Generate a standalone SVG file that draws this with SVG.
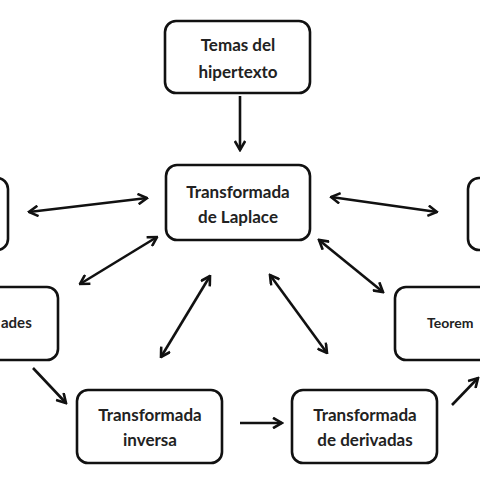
<svg xmlns="http://www.w3.org/2000/svg" width="480" height="480" viewBox="0 0 480 480">
<defs>
<style>
.box{fill:#fff;stroke:#111;stroke-width:2.6}
.t{font-family:Lato,"Open Sans",sans-serif;font-weight:bold;font-size:17px;fill:#222;text-anchor:middle}
.c line{stroke:#111;stroke-width:2.6}
</style>
<marker id="h" viewBox="0 0 12 12" refX="10.5" refY="6" markerWidth="12" markerHeight="12" markerUnits="userSpaceOnUse" orient="auto-start-reverse">
<path d="M1.5,0.8 L10.5,6 L1.5,11.2" fill="none" stroke="#111" stroke-width="2.6" stroke-linejoin="miter"/>
</marker>
</defs>
<rect width="480" height="480" fill="#fff"/>
<g class="c">
<line x1="240" y1="96" x2="240" y2="150" marker-end="url(#h)"/>
<line x1="29" y1="212" x2="147" y2="198" marker-start="url(#h)" marker-end="url(#h)"/>
<line x1="157" y1="237" x2="80" y2="284" marker-start="url(#h)" marker-end="url(#h)"/>
<line x1="331" y1="197" x2="437" y2="212" marker-start="url(#h)" marker-end="url(#h)"/>
<line x1="319" y1="240" x2="383" y2="292" marker-start="url(#h)" marker-end="url(#h)"/>
<line x1="210" y1="276" x2="161" y2="357" marker-start="url(#h)" marker-end="url(#h)"/>
<line x1="270" y1="275" x2="327" y2="353" marker-start="url(#h)" marker-end="url(#h)"/>
<line x1="33" y1="368" x2="66" y2="403" marker-end="url(#h)"/>
<line x1="240" y1="423" x2="282" y2="423" marker-end="url(#h)"/>
<line x1="452" y1="405" x2="478" y2="378" marker-end="url(#h)"/>
</g>
<g id="temas"><rect class="box" x="165" y="21" width="145" height="72" rx="11"/><text class="t" x="238" y="51">Temas del</text><text class="t" x="238" y="78">hipertexto</text></g>
<g id="laplace"><rect class="box" x="166" y="165" width="144" height="75" rx="11"/><text class="t" x="238" y="198">Transformada</text><text class="t" x="238" y="223">de Laplace</text></g>
<g id="izq-arriba"><rect class="box" x="-30" y="178" width="38" height="72" rx="11"/></g>
<g id="propiedades"><rect class="box" x="-90" y="287" width="148" height="73" rx="11"/><text class="t" x="1" y="328" style="text-anchor:start;font-size:15px">ades</text></g>
<g id="der-arriba"><rect class="box" x="468" y="178" width="40" height="72" rx="11"/></g>
<g id="teoremas"><rect class="box" x="395" y="287" width="120" height="73" rx="11"/><text class="t" x="427" y="328" style="text-anchor:start;font-size:14px">Teorem</text></g>
<g id="inversa"><rect class="box" x="77" y="390" width="145" height="73" rx="11"/><text class="t" x="150" y="421">Transformada</text><text class="t" x="150" y="446">inversa</text></g>
<g id="derivadas"><rect class="box" x="292" y="390" width="145" height="73" rx="11"/><text class="t" x="365" y="421">Transformada</text><text class="t" x="365" y="446">de derivadas</text></g>
</svg>
